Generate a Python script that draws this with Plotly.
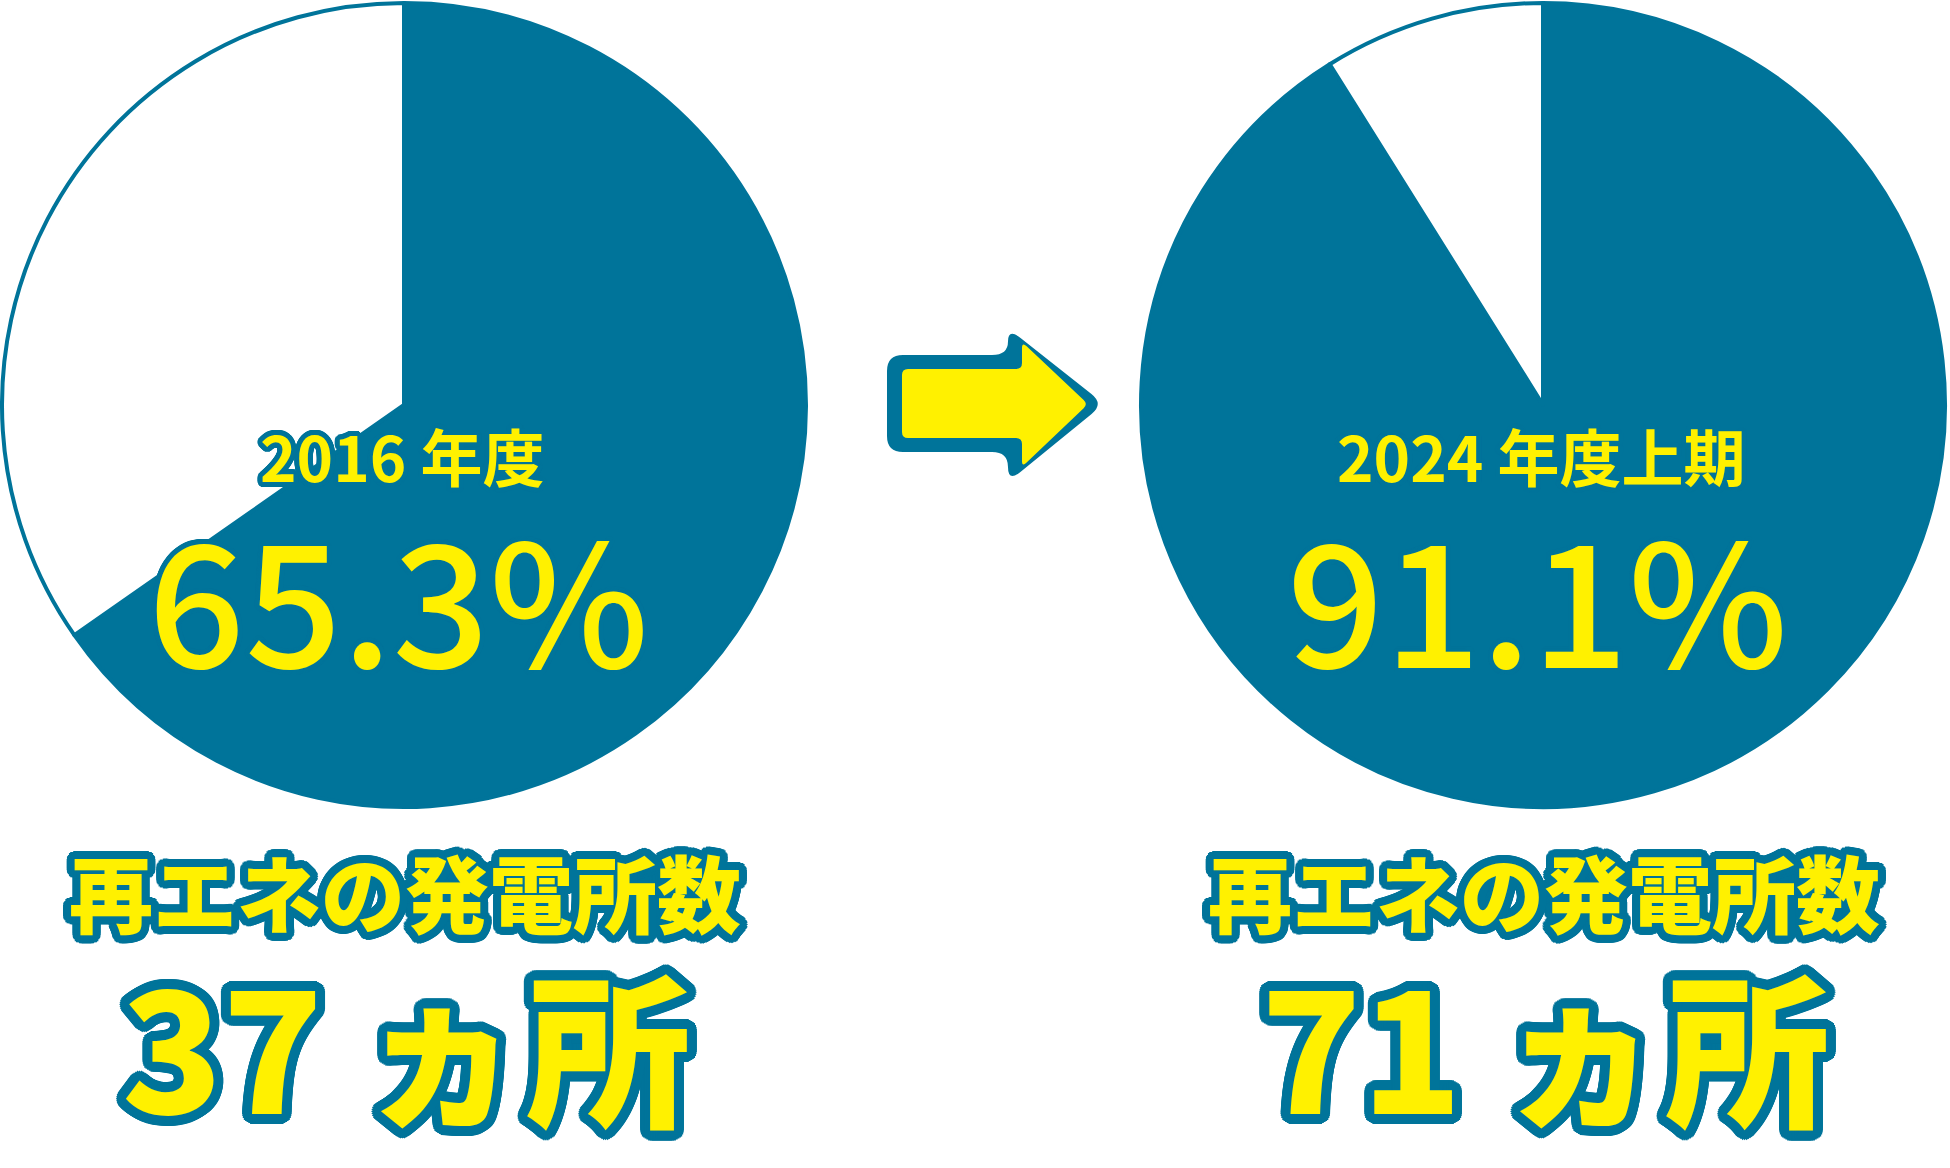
import math
import plotly.graph_objects as go

# ---- data ----
periods = ["2016 年度", "2024 年度上期"]
renewable_share = [65.3, 91.1]          # % (blue slice)
plant_counts = [37, 71]                 # ヵ所
count_title = "再エネの発電所数"

BLUE = "#00749A"
YELLOW = "#FFF100"
W, H = 1950, 1168

def px(x):
    return x / W

def py(y):
    return 1 - y / H

def outline(w, color, n=32):
    parts = []
    for ring in (w, w * 0.66, w * 0.33):
        for k in range(n):
            a = 2 * math.pi * k / n
            parts.append(f"{ring*math.cos(a):.1f}px {ring*math.sin(a):.1f}px 0 {color}")
    return ", ".join(parts)

fig = go.Figure()

centers = [(404, 405), (1543, 405)]
R = 402
for (cx, cy), share, period in zip(centers, renewable_share, periods):
    fig.add_trace(go.Pie(
        values=[share, round(100 - share, 1)],
        labels=["再エネ", "その他"],
        sort=False,
        direction="clockwise",
        rotation=0,
        marker=dict(colors=[BLUE, "#FFFFFF"], line=dict(color=BLUE, width=4)),
        textinfo="none",
        hoverinfo="label+percent",
        showlegend=False,
        domain=dict(x=[px(cx - R), px(cx + R)], y=[py(cy + R), py(cy - R)]),
    ))

annotations = []
for (cx, cy), share, period, cnt in zip(centers, renewable_share, periods, plant_counts):
    annotations.append(dict(
        x=px(cx - 2), y=py(455), xref="paper", yref="paper", showarrow=False,
        xanchor="center", yanchor="middle", text=period,
        font=dict(family="Noto Sans CJK JP", size=62, color=YELLOW, weight="bold",
                  shadow=outline(5, BLUE)),
    ))
    annotations.append(dict(
        x=px(cx - 6), y=py(594), xref="paper", yref="paper", showarrow=False,
        xanchor="center", yanchor="middle", text=f"{share}%",
        font=dict(family="Noto Sans CJK JP", size=170, color=YELLOW, weight=500,
                  shadow=outline(5, BLUE)),
    ))
    annotations.append(dict(
        x=px(cx + 1), y=py(890), xref="paper", yref="paper", showarrow=False,
        xanchor="center", yanchor="middle", text=count_title,
        font=dict(family="Noto Sans CJK JP", size=84, color=YELLOW, weight=800,
                  shadow=outline(8, BLUE)),
    ))
    annotations.append(dict(
        x=px(cx + 2), y=py(1042), xref="paper", yref="paper", showarrow=False,
        xanchor="center", yanchor="middle", text=f"{cnt} ヵ所",
        font=dict(family="Noto Sans CJK JP", size=165, color=YELLOW, weight=800,
                  shadow=outline(10, BLUE)),
    ))

def rounded_path(pts, r):
    n = len(pts)
    segs = []
    for i in range(n):
        p0 = pts[i - 1]
        p1 = pts[i]
        p2 = pts[(i + 1) % n]
        def toward(a, b, d):
            dx, dy = b[0] - a[0], b[1] - a[1]
            L = math.hypot(dx, dy)
            d = min(d, L / 2)
            return (a[0] + dx * d / L, a[1] + dy * d / L)
        a = toward(p1, p0, r)
        b = toward(p1, p2, r)
        cmd = "M" if i == 0 else "L"
        segs.append(f"{cmd}{px(a[0]):.5f},{py(a[1]):.5f}")
        segs.append(f"Q{px(p1[0]):.5f},{py(p1[1]):.5f} {px(b[0]):.5f},{py(b[1]):.5f}")
    return " ".join(segs) + " Z"

outer = [(887, 355), (1008, 355), (1008, 328), (1104, 404), (1008, 482), (1008, 452), (887, 452)]
inner = [(902, 369), (1022, 369), (1022, 342), (1088, 404), (1022, 467), (1022, 438), (902, 438)]
shapes = [
    dict(type="path", xref="paper", yref="paper", path=rounded_path(outer, 16),
         fillcolor=BLUE, line=dict(width=0)),
    dict(type="path", xref="paper", yref="paper", path=rounded_path(inner, 6),
         fillcolor=YELLOW, line=dict(width=0)),
]

fig.update_layout(
    width=W, height=H,
    margin=dict(l=0, r=0, t=0, b=0),
    paper_bgcolor="white", plot_bgcolor="white",
    annotations=annotations, shapes=shapes,
)

fig.write_html("out.html", config={"displayModeBar": False},
               post_script="document.body.style.margin='0px';")
